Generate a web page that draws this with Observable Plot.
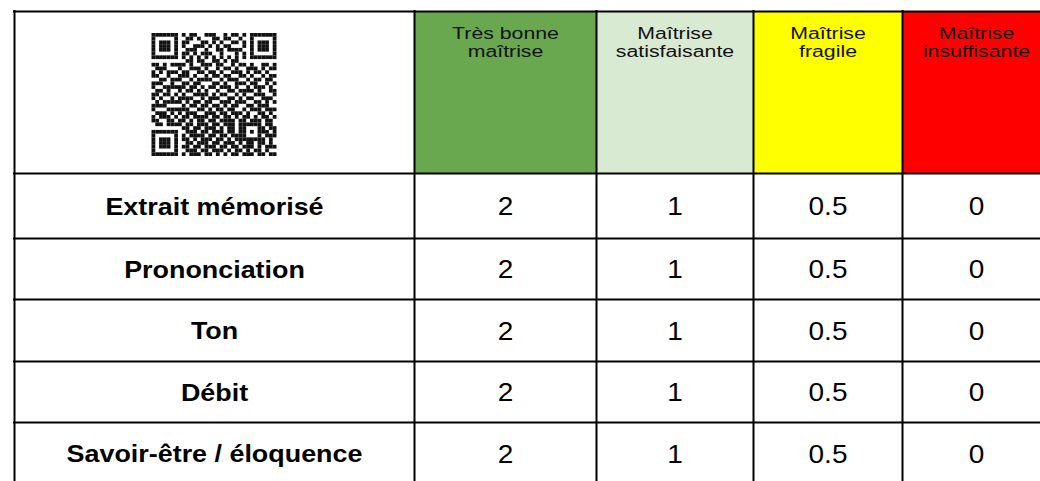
<!DOCTYPE html>
<html>
<head>
<meta charset="utf-8">
<script src="https://cdn.jsdelivr.net/npm/d3@7"></script>
<script src="https://cdn.jsdelivr.net/npm/@observablehq/plot@0.6"></script>
<style>
  html, body { margin: 0; padding: 0; background: #fff; }
  #chart svg { display: block; }
</style>
</head>
<body>
<div id="chart"></div>
<script>
// ---- data ----
const levels = ["Très bonne\nmaîtrise", "Maîtrise\nsatisfaisante", "Maîtrise\nfragile", "Maîtrise\ninsuffisante"];
const levelColors = ["#6aa84f", "#d9ead3", "#ffff00", "#ff0000"];
const criteria = ["Extrait mémorisé", "Prononciation", "Ton", "Débit", "Savoir-être / éloquence"];
const points = ["2", "1", "0.5", "0"];

// QR code modules (1 = dark)
const qrRows = [
  "1111111" + "0" + "10110011100101101" + "0" + "1111111",
  "1000001" + "0" + "01101000110110010" + "0" + "1000001",
  "1011101" + "0" + "11000110101001101" + "0" + "1011101",
  "1011101" + "0" + "10011101010110001" + "0" + "1011101",
  "1011101" + "0" + "01110010011011110" + "0" + "1011101",
  "1000001" + "0" + "11010111001000101" + "0" + "1000001",
  "1111111" + "0" + "10101010101010101" + "0" + "1111111",
  "00000000" + "01101100110101100" + "00000000",
  "110101" + "1" + "11010011101100101101001101",
  "011100" + "0" + "10011101001011010011101011",
  "101011" + "1" + "01100110110100111010110100",
  "110010" + "0" + "11101001011011001101001011",
  "001101" + "1" + "10010111100101110010110110",
  "111001" + "0" + "01101100011010011101100101",
  "100111" + "1" + "11011010110111010010111010",
  "011010" + "0" + "10110101001001101111010011",
  "110110" + "1" + "01001111010110010100111001",
  "101001" + "0" + "11110010111001101011001110",
  "010111" + "1" + "10101101100111011100110101",
  "111100" + "0" + "01011011011010110011011100",
  "100011" + "1" + "11100110101101100101110111",
  "011101" + "0" + "10111001110110111010011010",
  "101110" + "1" + "01101111011011010110101101",
  "110011" + "0" + "11010110110111101101110110",
  "011011" + "1" + "10110111011011101" + "11111" + "0110",
  "00000000" + "1101101110101101" + "10001" + "1011",
  "1111111" + "0" + "0111011011101101" + "10101" + "1101",
  "1000001" + "0" + "1011110110110111" + "10001" + "0111",
  "1011101" + "0" + "1101011101101011" + "11111" + "1010",
  "1011101" + "0" + "0110111011011101011011010",
  "1011101" + "0" + "1101101110110110111010111",
  "1000001" + "0" + "0111011011101011010110100",
  "1111111" + "0" + "1011101101010110111011011"
];

// ---- layout ----
const W = 1040, H = 481;
const colEdges = [14, 414, 596, 753, 902, 1050];
const rowEdges = [11, 173, 238, 299, 361, 422, 484];
const qrBox = {x0: 151.5, x1: 276.5, y0: 33, y1: 156};
const stretchBody = 1.12, stretchHeader = 1.33; // source text is horizontally widened

const n = qrRows.length;
const mw = (qrBox.x1 - qrBox.x0) / n, mh = (qrBox.y1 - qrBox.y0) / n;
const qrCells = [];
qrRows.forEach((row, r) => row.split("").forEach((ch, c) => { if (ch === "1") qrCells.push({r, c}); }));

const headerCells = levels.map((label, i) => ({label, color: levelColors[i], x1: colEdges[i + 1], x2: colEdges[i + 2]}));
const bodyCells = [];
criteria.forEach((crit, r) => {
  const y = (rowEdges[r + 1] + rowEdges[r + 2]) / 2;
  bodyCells.push({text: crit, x: (colEdges[0] + colEdges[1]) / 2, y, bold: true});
  points.forEach((p, j) => bodyCells.push({text: p, x: (colEdges[j + 1] + colEdges[j + 2]) / 2, y, bold: false}));
});

const font = "'Liberation Sans', Arial, Helvetica, sans-serif";

const chart = Plot.plot({
  width: W, height: H, margin: 0,
  x: {domain: [0, W], range: [0, W], axis: null},
  y: {domain: [0, H], range: [0, H], axis: null},
  style: {fontFamily: font, background: "#fff"},
  marks: [
    Plot.rect(headerCells, {x1: "x1", x2: "x2", y1: rowEdges[0], y2: rowEdges[1], fill: d => d.color}),
    Plot.rect(qrCells, {
      x1: d => qrBox.x0 + d.c * mw, x2: d => qrBox.x0 + (d.c + 1) * mw,
      y1: d => qrBox.y0 + d.r * mh, y2: d => qrBox.y0 + (d.r + 1) * mh,
      fill: "#111"
    }),
    Plot.ruleX(colEdges.slice(0, 5), {x: d => d, y1: rowEdges[0] - 1, y2: H + 5, stroke: "#000", strokeWidth: 2}),
    Plot.ruleY(rowEdges, {y: d => d, x1: colEdges[0] - 1, x2: W + 10, stroke: "#000", strokeWidth: 2}),
    Plot.text(headerCells, {
      x: d => (d.x1 + d.x2) / 2, y: rowEdges[0] + 14.5, text: "label",
      lineAnchor: "top", fontSize: 16, lineHeight: 1.13, fill: "#111", className: "hdr"
    }),
    Plot.text(bodyCells.filter(d => d.bold), {x: "x", y: "y", text: "text", fontSize: 24, fontWeight: "bold", fill: "#000", dy: 1, className: "body"}),
    Plot.text(bodyCells.filter(d => !d.bold), {x: "x", y: "y", text: "text", fontSize: 25, fill: "#000", dy: 1, className: "body"})
  ]
});
document.getElementById("chart").appendChild(chart);

// widen glyphs horizontally to match the source rendering
function widen(selector, factor) {
  d3.select(chart).selectAll(selector + " text").each(function () {
    const spans = this.querySelectorAll("tspan");
    const targets = spans.length ? Array.from(spans) : [this];
    targets.forEach(t => {
      const len = t.getComputedTextLength();
      if (len > 0) {
        t.setAttribute("textLength", (len * factor).toFixed(2));
        t.setAttribute("lengthAdjust", "spacingAndGlyphs");
      }
    });
  });
}
widen(".hdr", stretchHeader);
widen(".body", stretchBody);
</script>
</body>
</html>
